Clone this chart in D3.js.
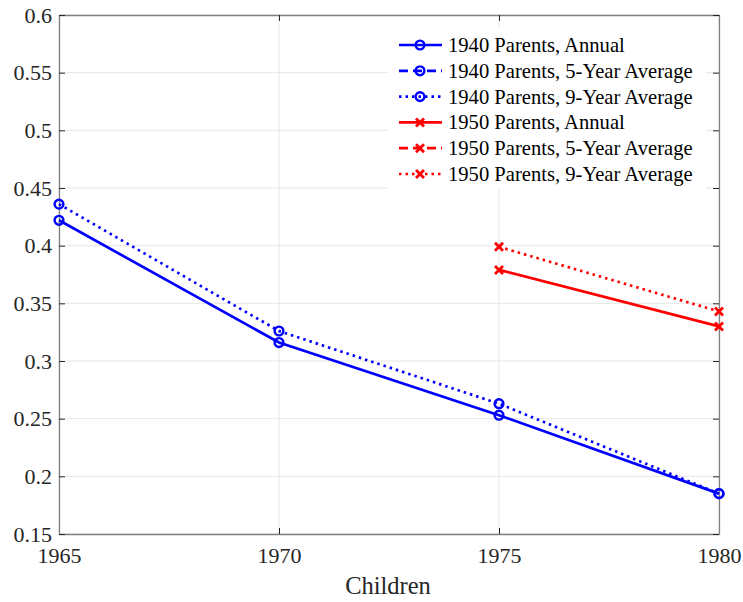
<!DOCTYPE html>
<html>
<head>
<meta charset="utf-8">
<script src="https://cdn.jsdelivr.net/npm/d3@7"></script>
<style>
  @font-face {
    font-family: "ChartSerif";
    src: local("Liberation Serif"), local("LiberationSerif"), local("LiberationSerif-Regular"), local("Times New Roman");
    font-display: swap;
  }
  body { margin: 0; background: #fff; }
</style>
</head>
<body>
<svg width="743" height="602"></svg>
<script>
const years = [1965, 1970, 1975, 1980];
const yTicks = [0.15, 0.2, 0.25, 0.3, 0.35, 0.4, 0.45, 0.5, 0.55, 0.6];

// 1940 parents
const annual1940 = [0.422, 0.316, 0.253, 0.185];
const avg5_1940 = [null, null, null, null];
const avg9_1940 = [0.436, 0.326, 0.263, 0.185];
// 1950 parents
const annual1950 = [null, null, 0.379, 0.330];
const avg5_1950 = [null, null, null, null];
const avg9_1950 = [null, null, 0.399, 0.343];

const series = [
	{name: '1940 Parents, Annual', values: annual1940, color: '#0000ff', dash: null, marker: 'o'},
	{name: '1940 Parents, 5-Year Average', values: avg5_1940, color: '#0000ff', dash: '9,5', marker: 'o'},
	{name: '1940 Parents, 9-Year Average', values: avg9_1940, color: '#0000ff', dash: '2.5,4', marker: 'o'},
	{name: '1950 Parents, Annual', values: annual1950, color: '#ff0000', dash: null, marker: 'x'},
	{name: '1950 Parents, 5-Year Average', values: avg5_1950, color: '#ff0000', dash: '9,5', marker: 'x'},
	{name: '1950 Parents, 9-Year Average', values: avg9_1950, color: '#ff0000', dash: '2.5,4', marker: 'x'}
];

const FONT = '"Liberation Serif", ChartSerif, "Times New Roman", serif';

const svg = d3.select('svg'),
	margin = {left: 59, right: 24, top: 15, bottom: 68},
	width = 743 - margin.left - margin.right,
	height = 602 - margin.top - margin.bottom;

const x = d3.scaleLinear().domain([1965, 1980]).range([margin.left, margin.left + width]);
const y = d3.scaleLinear().domain([0.15, 0.6]).range([margin.top + height, margin.top]);

const axisColor = '#808080';

// grid
const grid = svg.append('g').attr('class', 'grid');
grid.selectAll('line.gx').data(years).enter().append('line')
	.attr('x1', d => x(d)).attr('x2', d => x(d))
	.attr('y1', margin.top).attr('y2', margin.top + height)
	.attr('stroke', '#e6e6e6').attr('stroke-width', 1);
grid.selectAll('line.gy').data(yTicks).enter().append('line')
	.attr('y1', d => y(d)).attr('y2', d => y(d))
	.attr('x1', margin.left).attr('x2', margin.left + width)
	.attr('stroke', '#e6e6e6').attr('stroke-width', 1);

// axes (ticks inward, mirrored)
const fmtY = d => String(+d.toFixed(2));
const axisBottom = svg.append('g').attr('transform', `translate(0,${margin.top + height})`)
	.call(d3.axisBottom(x).tickValues(years).tickFormat(d3.format('d')).tickSizeInner(-6).tickSizeOuter(0).tickPadding(13));
const axisTop = svg.append('g').attr('transform', `translate(0,${margin.top})`)
	.call(d3.axisTop(x).tickValues(years).tickFormat('').tickSizeInner(-6).tickSizeOuter(0));
const axisLeft = svg.append('g').attr('transform', `translate(${margin.left},0)`)
	.call(d3.axisLeft(y).tickValues(yTicks).tickFormat(fmtY).tickSizeInner(-6).tickSizeOuter(0).tickPadding(7));
const axisRight = svg.append('g').attr('transform', `translate(${margin.left + width},0)`)
	.call(d3.axisRight(y).tickValues(yTicks).tickFormat('').tickSizeInner(-6).tickSizeOuter(0));

[axisBottom, axisTop, axisLeft, axisRight].forEach(a => {
	a.attr('font-family', null).attr('font-size', null);
	a.select('.domain').attr('stroke', axisColor).attr('stroke-width', 1.3);
	a.selectAll('.tick line').attr('stroke', '#262626');
	a.selectAll('.tick text').attr('fill', '#262626')
		.style('font-family', FONT).style('font-size', '22px');
});

svg.append('text')
	.attr('x', margin.left + width / 2 - 1).attr('y', 594)
	.attr('text-anchor', 'middle').attr('fill', '#262626')
	.style('font-family', FONT).style('font-size', '24.5px').text('Children');

// lines
const line = d3.line()
	.defined(d => d.v != null)
	.x(d => x(d.year)).y(d => y(d.v));

function drawMarker(g, kind, color) {
	if (kind === 'o') {
		g.append('circle').attr('r', 4.4).attr('fill', 'none')
			.attr('stroke', color).attr('stroke-width', 2.4);
	} else {
		g.append('path').attr('d', 'M-4,-4L4,4M-4,4L4,-4')
			.attr('stroke', color).attr('stroke-width', 2.8).attr('fill', 'none');
	}
}

const plot = svg.append('g').attr('class', 'plot');
series.slice().reverse().forEach(s => {
	const pts = years.map((yr, i) => ({year: yr, v: s.values[i]}));
	plot.append('path').datum(pts)
		.attr('d', line).attr('fill', 'none')
		.attr('stroke', s.color).attr('stroke-width', 2.7)
		.attr('stroke-dasharray', s.dash);
	pts.filter(d => d.v != null).forEach(d => {
		const g = plot.append('g').attr('transform', `translate(${x(d.year)},${y(d.v)})`);
		drawMarker(g, s.marker, s.color);
	});
});

// legend
const legend = svg.append('g').attr('transform', 'translate(388,27)');
legend.append('rect').attr('width', 318).attr('height', 162).attr('fill', '#fff');
series.forEach((s, i) => {
	const row = legend.append('g').attr('transform', `translate(0,${18 + i * 25.8})`);
	row.append('line').attr('x1', 11).attr('x2', 54).attr('y1', 0).attr('y2', 0)
		.attr('stroke', s.color).attr('stroke-width', 2.7)
		.attr('stroke-dasharray', s.dash);
	const m = row.append('g').attr('transform', 'translate(32,0)');
	drawMarker(m, s.marker, s.color);
	row.append('text').attr('x', 60).attr('y', 7)
		.attr('fill', '#000')
		.style('font-family', FONT).style('font-size', '20.6px').text(s.name);
});
</script>
</body>
</html>
